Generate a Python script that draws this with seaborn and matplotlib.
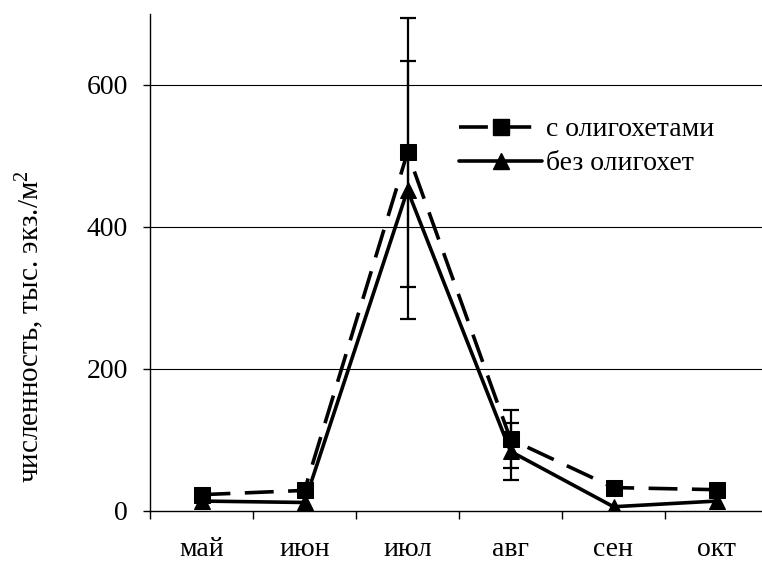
import matplotlib
matplotlib.use("Agg")
import matplotlib.pyplot as plt
import seaborn as sns
import pandas as pd
import numpy as np
from matplotlib.lines import Line2D

months = ["май", "июн", "июл", "авг", "сен", "окт"]
with_olig = [23, 29, 505, 101, 33, 30]
with_olig_err = [0, 0, 190, 41, 0, 0]
without_olig = [14, 12, 452, 84, 6, 14]
without_olig_err = [0, 0, 182, 40, 0, 0]
label_with = "с олигохетами"
label_without = "без олигохет"
yticks = [0, 200, 400, 600]

sns.set_theme(style="white")
plt.rcParams["font.family"] = ["Liberation Serif", "DejaVu Serif"]
plt.rcParams["mathtext.fontset"] = "custom"
plt.rcParams["mathtext.rm"] = "Liberation Serif"
plt.rcParams["mathtext.it"] = "Liberation Serif"

fig = plt.figure(figsize=(7.62, 5.65), dpi=100)
ax = fig.add_axes([150/762, 1-511/565, 618/762, (511-14)/565])

df = pd.DataFrame({
    "month": months * 2,
    "value": with_olig + without_olig,
    "series": [label_with] * 6 + [label_without] * 6,
})
sns.lineplot(data=df, x="month", y="value", hue="series", style="series",
             palette=["black", "black"], markers=["s", "^"],
             dashes=[(8, 4), ""], linewidth=2.6, markersize=12,
             markeredgecolor="black", sort=False, ax=ax, legend=False, zorder=3)

x = np.arange(len(months))
for vals, errs in [(with_olig, with_olig_err), (without_olig, without_olig_err)]:
    v = np.array(vals, float); e = np.array(errs, float)
    m = e > 0
    ax.errorbar(x[m], v[m], yerr=e[m], fmt="none", ecolor="black",
                elinewidth=1.6, capsize=6, capthick=1.6, zorder=4)

ax.set_xlim(-0.5, 5.5)
ax.set_ylim(0, 700)
ax.set_yticks(yticks)
ax.set_yticklabels([str(t) for t in yticks])
ax.set_xticks(x)
ax.set_xticklabels(months)
ax.set_xticks(np.arange(-0.5, 6.0, 1.0), minor=True)
ax.tick_params(axis="x", which="major", length=0, labelsize=20, pad=19)
ax.tick_params(axis="x", which="minor", length=6, width=1, color="black", direction="out", bottom=True)
ax.tick_params(axis="y", length=5, width=1, color="black", direction="out", left=True, labelsize=20, pad=11)
for t in ax.get_xticklabels() + ax.get_yticklabels():
    t.set_color("black")

for yv in yticks[1:]:
    ax.axhline(yv, color="black", linewidth=0.8, zorder=1)

for s in ["top", "right"]:
    ax.spines[s].set_visible(False)
for s in ["left", "bottom"]:
    ax.spines[s].set_color("black")
    ax.spines[s].set_linewidth(1.0)

ax.set_xlabel("")
ax.set_ylabel("численность, тыс. экз./м$^{2}$", fontsize=21, color="black")
ax.yaxis.set_label_coords(-0.168, 0.372)

h1 = Line2D([], [], color="black", linewidth=2.6, dashes=(8, 4), marker="s", markersize=12)
h2 = Line2D([], [], color="black", linewidth=2.6, marker="^", markersize=11)
leg = fig.legend([h1, h2], [label_with, label_without], loc="upper left",
                 bbox_to_anchor=(434/762, 1-92/565), frameon=False, fontsize=20,
                 handlelength=3.0, handletextpad=0.15, labelspacing=0.3)
for t in leg.get_texts():
    t.set_color("black")

fig.savefig("out.png", dpi=100)
